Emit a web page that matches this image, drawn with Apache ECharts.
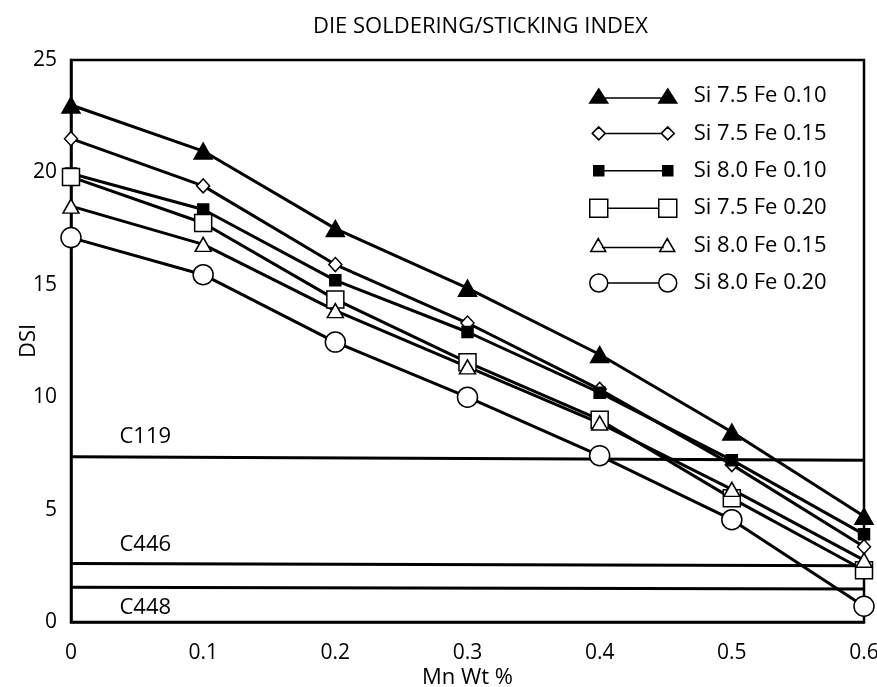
<!DOCTYPE html>
<html>
<head>
<meta charset="utf-8">
<script src="https://cdn.jsdelivr.net/npm/echarts@6/dist/echarts.min.js"></script>
<style>html,body{margin:0;padding:0;background:#fff;}#c{width:877px;height:687px;}</style>
</head>
<body>
<div id="c"></div>
<script>
// ---- data ----
var mnWt = [0, 0.1, 0.2, 0.3, 0.4, 0.5, 0.6];
var seriesNames = ['Si 7.5 Fe 0.10', 'Si 7.5 Fe 0.15', 'Si 8.0 Fe 0.10', 'Si 7.5 Fe 0.20', 'Si 8.0 Fe 0.15', 'Si 8.0 Fe 0.20'];
var si75fe010 = [23.0, 20.95, 17.5, 14.85, 11.9, 8.45, 4.7];
var si75fe015 = [21.5, 19.4, 15.9, 13.3, 10.35, 7.0, 3.35];
var si80fe010 = [19.95, 18.35, 15.2, 12.9, 10.2, 7.2, 3.9];
var si75fe020 = [19.8, 17.75, 14.35, 11.55, 9.0, 5.5, 2.3];
var si80fe015 = [18.5, 16.8, 13.85, 11.35, 8.85, 5.9, 2.75];
var si80fe020 = [17.1, 15.45, 12.45, 10.0, 7.4, 4.55, 0.7];
var refNames = ['C119', 'C446', 'C448'];
var refStart = [7.35, 2.6, 1.55];   // DSI at Mn = 0
var refEnd = [7.2, 2.5, 1.47];      // DSI at Mn = 0.6
var xTicks = ['0', '0.1', '0.2', '0.3', '0.4', '0.5', '0.6'];
var yTicks = ['0', '5', '10', '15', '20', '25'];

// ---- styles ----
var FONT = 'Open Sans';
var valuesList = [si75fe010, si75fe015, si80fe010, si75fe020, si80fe015, si80fe020];
var markers = [
  {symbol: 'triangle', size: [18, 16], fill: '#000'},
  {symbol: 'diamond', size: [13, 14], fill: '#fff'},
  {symbol: 'rect', size: 11, fill: '#000'},
  {symbol: 'rect', size: 17, fill: '#fff'},
  {symbol: 'triangle', size: [16, 14], fill: '#fff'},
  {symbol: 'circle', size: 20, fill: '#fff'}
];
var labelDy = [-20, -19, 21];
var BOX = 'M0 0 M100 20 ';
var legendIcons = [
  'path://' + BOX + 'M1 17 L19 17 L10 3 Z M70 17 L88 17 L79 3 Z M14 12 L76 12',
  'path://' + BOX + 'M3.5 10 L10 3.5 L16.5 10 L10 16.5 Z M72.5 10 L79 3.5 L85.5 10 L79 16.5 Z M16.5 10 L72.5 10',
  'path://' + BOX + 'M5 5 L15 5 L15 15 L5 15 Z M74 5 L84 5 L84 15 L74 15 Z M15 10 L74 10',
  'path://' + BOX + 'M1 1 L19 1 L19 19 L1 19 Z M70 1 L88 1 L88 19 L70 19 Z M19 10 L70 10',
  'path://' + BOX + 'M2 16 L17 16 L9.5 3 Z M71 16 L86 16 L78.5 3 Z M13 12 L75 12',
  'path://' + BOX + 'M1 10 A9 9 0 1 1 19 10 A9 9 0 1 1 1 10 Z M70 10 A9 9 0 1 1 88 10 A9 9 0 1 1 70 10 Z M19 10 L70 10'
];

var series = [];
valuesList.forEach(function (vals, i) {
  series.push({
    name: seriesNames[i],
    type: 'line',
    data: mnWt.map(function (x, j) { return [x, vals[j]]; }),
    symbol: markers[i].symbol,
    symbolSize: markers[i].size,
    showAllSymbol: true,
    lineStyle: {color: '#000', width: 3},
    itemStyle: {color: markers[i].fill, borderColor: '#000', borderWidth: 1.5, opacity: 1},
    emphasis: {disabled: true},
    z: 3
  });
});
refNames.forEach(function (nm, i) {
  series.push({
    name: nm,
    type: 'line',
    symbol: 'none',
    data: [
      {value: [mnWt[0], refStart[i]], symbol: 'circle', symbolSize: 1,
       itemStyle: {color: '#000'},
       label: {show: true, formatter: nm, position: 'right', distance: 0,
               offset: [48, labelDy[i]], color: '#000', fontFamily: FONT, fontSize: 22}},
      [mnWt[mnWt.length - 1], refEnd[i]]
    ],
    lineStyle: {color: '#000', width: 3},
    emphasis: {disabled: true},
    z: 2
  });
});

var chart = echarts.init(document.getElementById('c'));
chart.setOption({
  animation: false,
  backgroundColor: '#fff',
  title: {
    text: 'DIE SOLDERING/STICKING INDEX',
    left: 313, top: 16, padding: 0,
    textStyle: {color: '#000', fontFamily: FONT, fontSize: 22, fontWeight: 'normal'}
  },
  legend: {
    orient: 'vertical',
    left: 588, top: 85, padding: 0,
    itemWidth: 100, itemHeight: 20, itemGap: 15.4,
    selectedMode: false,
    textStyle: {color: '#000', fontFamily: FONT, fontSize: 22, lineHeight: 20},
    data: seriesNames.map(function (n, i) {
      return {name: n, icon: legendIcons[i],
              itemStyle: {color: markers[i].fill, borderColor: '#000', borderWidth: 1.5}};
    })
  },
  grid: {left: 71, right: 13, top: 60, bottom: 65, outerBoundsMode: 'none', containLabel: false,
         show: true, borderColor: '#000', borderWidth: 2.5, backgroundColor: 'transparent'},
  xAxis: {
    type: 'value', min: 0, max: 0.6, interval: 0.1,
    name: 'Mn Wt %', nameLocation: 'middle', nameGap: 45, nameMoveOverlap: false,
    nameTextStyle: {color: '#000', fontFamily: FONT, fontSize: 22},
    axisLine: {show: true, lineStyle: {color: '#000', width: 2.5}},
    axisTick: {show: false},
    splitLine: {show: false},
    axisLabel: {color: '#000', fontFamily: FONT, fontSize: 21, margin: 21,
      formatter: function (v) { return xTicks[Math.round(v * 10)]; }}
  },
  yAxis: {
    type: 'value', min: 0, max: 25, interval: 5,
    name: 'DSI', nameLocation: 'middle', nameGap: 31, nameRotate: 90, nameMoveOverlap: false,
    nameTextStyle: {color: '#000', fontFamily: FONT, fontSize: 22},
    axisLine: {show: true, lineStyle: {color: '#000', width: 2.5}},
    axisTick: {show: false},
    splitLine: {show: false},
    axisLabel: {color: '#000', fontFamily: FONT, fontSize: 21, margin: 14,
      formatter: function (v) { return yTicks[Math.round(v / 5)]; }}
  },
  series: series
});
</script>
</body>
</html>
